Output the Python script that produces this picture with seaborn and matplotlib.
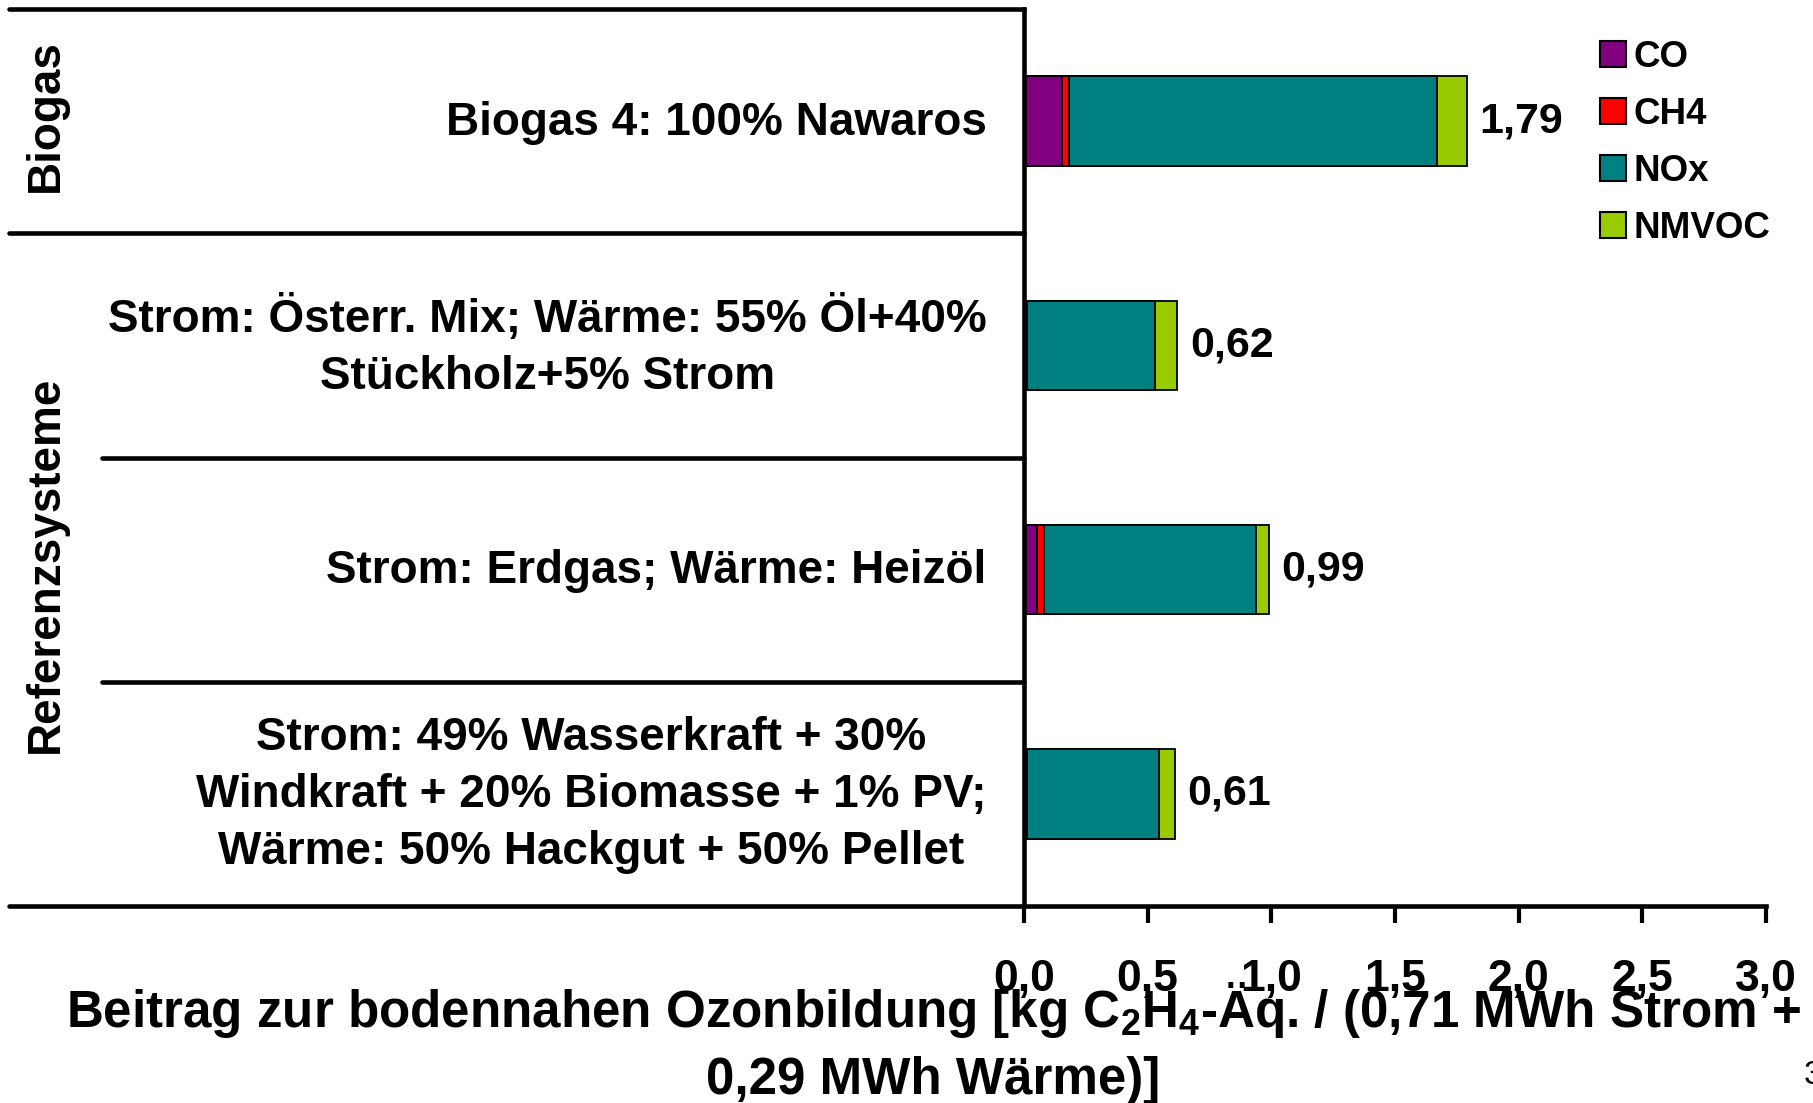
import matplotlib
matplotlib.use("Agg")
import matplotlib.pyplot as plt
import matplotlib.transforms as mtransforms
from matplotlib.patches import Patch
import numpy as np
import pandas as pd
import seaborn as sns

# ---- data -------------------------------------------------------------
categories = [
    "Biogas 4: 100% Nawaros",
    "Strom: Österr. Mix; Wärme: 55% Öl+40%\nStückholz+5% Strom",
    "Strom: Erdgas; Wärme: Heizöl",
    "Strom: 49% Wasserkraft + 30%\nWindkraft + 20% Biomasse + 1% PV;\nWärme: 50% Hackgut + 50% Pellet",
]
series_names = ["CO", "CH4", "NOx", "NMVOC"]
co = [0.155, 0.010, 0.052, 0.012]
ch4 = [0.027, 0.002, 0.027, 0.001]
nox = [1.486, 0.516, 0.859, 0.533]
nmvoc = [0.122, 0.092, 0.052, 0.064]
series_colors = ["#800080", "#FF0000", "#008080", "#99CC00"]

groups = ["Biogas", "Referenzsysteme"]
group_spans = [(0, 0), (1, 3)]          # first / last category index of each group

x_ticks = [0.0, 0.5, 1.0, 1.5, 2.0, 2.5, 3.0]
x_label_1 = "Beitrag zur bodennahen Ozonbildung [kg C$_2$H$_4$-Äq. / (0,71 MWh Strom +"
x_label_2 = "0,29 MWh Wärme)]"

# ---- style ------------------------------------------------------------
sns.set_style("white")
plt.rcParams["font.family"] = ["Liberation Sans", "DejaVu Sans"]
plt.rcParams["font.weight"] = "bold"
plt.rcParams["mathtext.default"] = "regular"
for key in ["text.color", "axes.labelcolor", "xtick.color", "ytick.color"]:
    plt.rcParams[key] = "black"

W, H = 1813, 1103
fig = plt.figure(figsize=(W / 100, H / 100), dpi=100)
ax_left, ax_right, ax_top, ax_bottom = 1024, 1766, 9, 906
ax = fig.add_axes([ax_left / W, 1 - ax_bottom / H,
                   (ax_right - ax_left) / W, (ax_bottom - ax_top) / H])

df = pd.DataFrame({"Kategorie": categories, "CO": co, "CH4": ch4,
                   "NOx": nox, "NMVOC": nmvoc})
cum = df[series_names].cumsum(axis=1)
totals = cum[series_names[-1]].values

# stacked bars: draw cumulative totals back to front
for name, col in reversed(list(zip(series_names, series_colors))):
    sns.barplot(x=cum[name], y=df["Kategorie"], orient="h", color=col,
                saturation=1, width=0.4, edgecolor="black", linewidth=1.3,
                errorbar=None, ax=ax)

# value labels
for i, t in enumerate(totals):
    ax.annotate(f"{t:.2f}".replace(".", ","), xy=(t, i), xytext=(9, 0),
                textcoords="offset points", ha="left", va="center",
                fontsize=31, fontweight="bold")

# ---- axes -------------------------------------------------------------
ax.set_xlim(0, 3.0)
ax.set_ylim(3.5, -0.5)
ax.set_xlabel("")
ax.set_ylabel("")
ax.set_xticks(x_ticks, [f"{v:.1f}".replace(".", ",") for v in x_ticks],
              fontsize=32, fontweight="bold")
ax.set_yticks(range(len(categories)), [""] * len(categories))
ax.tick_params(axis="x", length=12.5, width=3, pad=26, color="black",
               direction="out", bottom=True)
ax.tick_params(axis="y", length=0)

for side in ["top", "right"]:
    ax.spines[side].set_visible(False)
for side in ["left", "bottom"]:
    ax.spines[side].set_linewidth(3.3)
    ax.spines[side].set_color("black")
    ax.spines[side].set_capstyle("projecting")

# category labels, right-aligned next to the axis, lines centred
trans = mtransforms.blended_transform_factory(ax.transAxes, ax.transData)
off = mtransforms.ScaledTranslation(-27 / 72, -1 / 72, fig.dpi_scale_trans)
for i, lab in enumerate(categories):
    ax.text(0, i, lab, transform=trans + off, ha="right", va="center",
            multialignment="center", linespacing=1.38, fontsize=33,
            fontweight="bold", clip_on=False)

# frame lines of the label table on the left
outer_x = (9 - ax_left) / (ax_right - ax_left)
inner_x = (102 - ax_left) / (ax_right - ax_left)
for yb, x0 in [(-0.5, outer_x), (0.5, outer_x), (1.5, inner_x),
               (2.5, inner_x), (3.5, outer_x)]:
    ax.plot([x0, 0], [yb, yb], transform=trans, color="black", lw=3.3,
            clip_on=False, solid_capstyle="round")

# group labels
gtrans = mtransforms.blended_transform_factory(fig.transFigure, ax.transData)
gtrans = gtrans + mtransforms.ScaledTranslation(0, 4 / 72, fig.dpi_scale_trans)
for g, (a, b) in zip(groups, group_spans):
    fig.text(46 / W, (a + b) / 2, g, transform=gtrans, rotation=90,
             ha="center", va="center", fontsize=33, fontweight="bold")

# axis title
fig.text(933 / W, 1 - 1027 / H, x_label_1, ha="center", va="baseline",
         fontsize=36.8, fontweight="bold")
fig.text(933 / W, 1 - 1094 / H, x_label_2, ha="center", va="baseline",
         fontsize=36.8, fontweight="bold")
fig.text(1804 / W, 1 - 1075 / H, "3", ha="left", va="center",
         fontsize=24, fontweight="normal")

# legend
handles = [Patch(facecolor=c, edgecolor="black", linewidth=1.5)
           for c in series_colors]
fig.legend(handles, series_names, loc="upper left",
           bbox_to_anchor=(1600 / W, 1 - 40 / H), frameon=False,
           handlelength=0.7, handleheight=0.7,
           handletextpad=0.2, labelspacing=0.6, borderpad=0,
           borderaxespad=0, prop={"weight": "bold", "size": 26.5})

fig.savefig("out.png", dpi=100)
